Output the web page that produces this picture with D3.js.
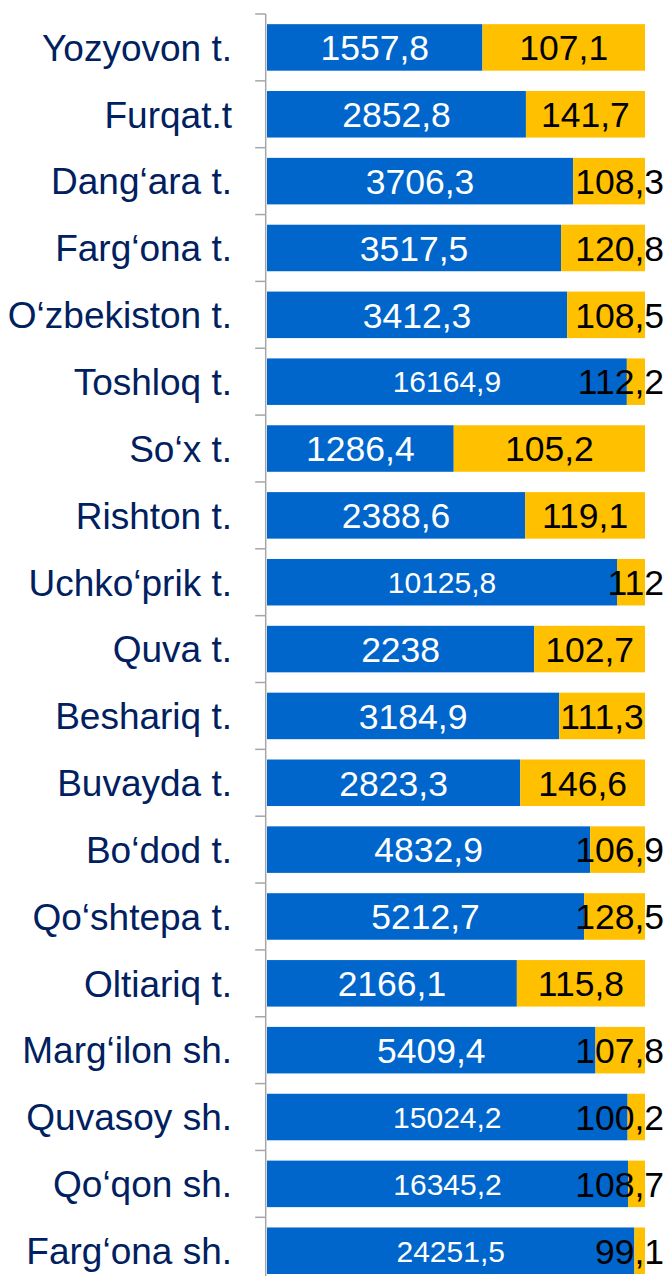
<!DOCTYPE html>
<html>
<head>
<meta charset="utf-8">
<script src="https://cdn.jsdelivr.net/npm/d3@7"></script>
<style>
  html, body { margin: 0; padding: 0; background: #fff; }
  #stage { width: 670px; height: 1276px; }
</style>
</head>
<body>
<div id="stage"></div>
<script>
const categories = [
  "Yozyovon t.", "Furqat.t", "Dang‘ara t.", "Farg‘ona t.", "O‘zbekiston t.",
  "Toshloq t.", "So‘x t.", "Rishton t.", "Uchko‘prik t.", "Quva t.",
  "Beshariq t.", "Buvayda t.", "Bo‘dod t.", "Qo‘shtepa t.", "Oltiariq t.",
  "Marg‘ilon sh.", "Quvasoy sh.", "Qo‘qon sh.", "Farg‘ona sh."
];
const blueValues = [
  1557.8, 2852.8, 3706.3, 3517.5, 3412.3, 16164.9, 1286.4, 2388.6, 10125.8, 2238,
  3184.9, 2823.3, 4832.9, 5212.7, 2166.1, 5409.4, 15024.2, 16345.2, 24251.5
];
const yellowValues = [
  107.1, 141.7, 108.3, 120.8, 108.5, 112.2, 105.2, 119.1, 112, 102.7,
  111.3, 146.6, 106.9, 128.5, 115.8, 107.8, 100.2, 108.7, 99.1
];
// share of each bar taken by the blue segment, in percent
const blueShare = [
  57.0, 68.5, 81.0, 77.8, 79.4, 95.2, 49.4, 68.3, 92.6, 70.7,
  77.3, 67.0, 85.5, 83.9, 66.1, 86.9, 95.4, 95.5, 97.2
];

const width = 670;
const height = 1276;

const svg = d3.select("#stage")
  .append("svg")
  .attr("width", width)
  .attr("height", height)
  .attr("viewBox", `0 0 ${width} ${height}`);

const rows = categories.map((c, i) => ({
  name: c,
  blue: blueValues[i],
  yellow: yellowValues[i],
  share: blueShare[i]
}));

const pad = 0.304;
const y = d3.scaleBand()
  .domain(categories)
  .range([14, 14 + 66.85 * categories.length])
  .paddingInner(pad)
  .paddingOuter(pad / 2);

const x = d3.scaleLinear().domain([0, 100]).range([267, 645]);

const fmt = v => String(v).replace(".", ",");
const font = "Arial, 'Liberation Sans', sans-serif";

// axis line and ticks between categories
const axisX = 265.7;
svg.append("line")
  .attr("x1", axisX).attr("x2", axisX)
  .attr("y1", y.range()[0]).attr("y2", y.range()[1])
  .attr("stroke", "#a6a6a6")
  .attr("stroke-width", 1.5);

const bounds = categories.map(c => y(c) - y.step() * pad / 2).concat([y.range()[1]]);
svg.selectAll("line.tick")
  .data(bounds)
  .join("line")
  .attr("class", "tick")
  .attr("x1", axisX - 10.5).attr("x2", axisX)
  .attr("y1", d => d).attr("y2", d => d)
  .attr("stroke", "#a6a6a6")
  .attr("stroke-width", 1.5);

// category labels
svg.selectAll("text.cat")
  .data(rows)
  .join("text")
  .attr("class", "cat")
  .attr("x", 232)
  .attr("y", d => y(d.name) + y.bandwidth() / 2)
  .attr("dy", "0.36em")
  .attr("text-anchor", "end")
  .attr("font-family", font)
  .attr("font-size", "37px")
  .attr("fill", "#002060")
  .text(d => d.name);

// bars
svg.selectAll("rect.blue")
  .data(rows)
  .join("rect")
  .attr("class", "blue")
  .attr("x", x(0))
  .attr("y", d => y(d.name))
  .attr("width", d => x(d.share) - x(0))
  .attr("height", y.bandwidth())
  .attr("fill", "#0066CC");

svg.selectAll("rect.yellow")
  .data(rows)
  .join("rect")
  .attr("class", "yellow")
  .attr("x", d => x(d.share))
  .attr("y", d => y(d.name))
  .attr("width", d => x(100) - x(d.share))
  .attr("height", y.bandwidth())
  .attr("fill", "#FFC000");

// value labels in the blue part
svg.selectAll("text.bv")
  .data(rows)
  .join("text")
  .attr("class", "bv")
  .attr("x", d => (x(0) + x(d.share)) / 2)
  .attr("y", d => y(d.name) + y.bandwidth() / 2)
  .attr("dy", "0.36em")
  .attr("text-anchor", "middle")
  .attr("font-family", font)
  .attr("font-size", d => d.blue >= 10000 ? "30px" : "35.5px")
  .attr("fill", "#fff")
  .text(d => fmt(d.blue));

// value labels in the yellow part, kept inside the picture when they overflow
const yl = svg.selectAll("text.yv")
  .data(rows)
  .join("text")
  .attr("class", "yv")
  .attr("y", d => y(d.name) + y.bandwidth() / 2)
  .attr("dy", "0.36em")
  .attr("text-anchor", "middle")
  .attr("font-family", font)
  .attr("font-size", "35.5px")
  .attr("fill", "#000")
  .text(d => fmt(d.yellow));

yl.each(function (d) {
  const w = this.getComputedTextLength();
  const segW = x(100) - x(d.share);
  let cx = (x(d.share) + x(100)) / 2;
  if (w > segW) cx = 664 - w / 2;
  d3.select(this).attr("x", cx);
});
</script>
</body>
</html>
